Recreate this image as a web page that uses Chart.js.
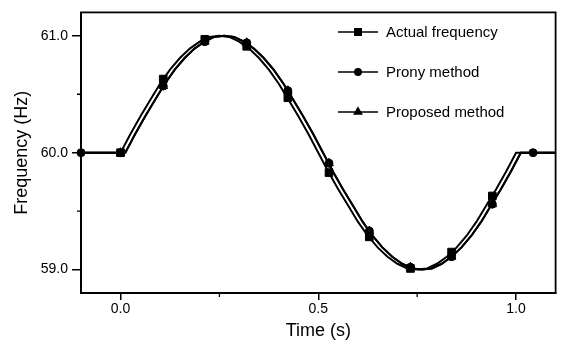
<!DOCTYPE html>
<html><head><meta charset="utf-8">
<script src="https://cdn.jsdelivr.net/npm/chart.js@4/dist/chart.umd.min.js"></script>
<style>html,body{margin:0;padding:0;background:#fff}#wrap{width:562px;height:350px}</style>
</head><body><div id="wrap"><canvas id="c" width="562" height="350"></canvas></div>
<script>
const seriesNames = ['Actual frequency', 'Prony method', 'Proposed method'];

// Actual frequency curve (s, Hz)
const actualTime = [-0.1, 0, 0.025, 0.05, 0.075, 0.1, 0.125, 0.15, 0.175, 0.2, 0.225, 0.25, 0.275, 0.3, 0.325, 0.35, 0.375, 0.4, 0.425, 0.45, 0.475, 0.5, 0.525, 0.55, 0.575, 0.6, 0.625, 0.65, 0.675, 0.7, 0.725, 0.75, 0.775, 0.8, 0.825, 0.85, 0.875, 0.9, 0.925, 0.95, 0.975, 1.0, 1.1];
const actualFreq = [60.00, 60.00, 60.16, 60.31, 60.45, 60.59, 60.71, 60.81, 60.89, 60.95, 60.99, 61.00, 60.99, 60.95, 60.89, 60.81, 60.71, 60.59, 60.45, 60.31, 60.16, 60.00, 59.84, 59.69, 59.55, 59.41, 59.29, 59.19, 59.11, 59.05, 59.01, 59.00, 59.01, 59.05, 59.11, 59.19, 59.29, 59.41, 59.55, 59.69, 59.84, 60.00, 60.00];

// Estimated curve (Prony / Proposed), slightly delayed
const estimatedTime = [-0.1, 0.012, 0.037, 0.062, 0.087, 0.112, 0.137, 0.162, 0.187, 0.212, 0.237, 0.262, 0.287, 0.312, 0.337, 0.362, 0.387, 0.412, 0.437, 0.462, 0.487, 0.512, 0.537, 0.562, 0.587, 0.612, 0.637, 0.662, 0.687, 0.712, 0.737, 0.762, 0.787, 0.812, 0.837, 0.862, 0.887, 0.912, 0.937, 0.962, 0.987, 1.012, 1.1];
const estimatedFreq = [60.00, 60.00, 60.16, 60.31, 60.45, 60.59, 60.71, 60.81, 60.89, 60.95, 60.99, 61.00, 60.99, 60.95, 60.89, 60.81, 60.71, 60.59, 60.45, 60.31, 60.16, 60.00, 59.84, 59.69, 59.55, 59.41, 59.29, 59.19, 59.11, 59.05, 59.01, 59.00, 59.01, 59.05, 59.11, 59.19, 59.29, 59.41, 59.55, 59.69, 59.84, 60.00, 60.00];

// Marker samples
const actualMarkTime = [0, 0.108, 0.213, 0.319, 0.423, 0.527, 0.629, 0.733, 0.837, 0.940];
const actualMarkFreq = [60.00, 60.63, 60.97, 60.91, 60.47, 59.83, 59.28, 59.01, 59.15, 59.63];
const pronyMarkTime = [-0.1, 0, 0.108, 0.213, 0.319, 0.423, 0.527, 0.629, 0.733, 0.837, 0.940, 1.043];
const pronyMarkFreq = [60.00, 60.00, 60.57, 60.95, 60.94, 60.53, 59.91, 59.33, 59.02, 59.11, 59.56, 60.00];
const proposedMarkTime = [0, 0.108, 0.213, 0.319, 0.423, 0.527, 0.629, 0.733, 0.837, 0.940];
const proposedMarkFreq = [60.00, 60.57, 60.95, 60.94, 60.53, 59.91, 59.33, 59.02, 59.11, 59.56];

const xMinorTicks = [0.25, 0.75];
const yMinorTicks = [59.5, 60.5];

const FONT = '"Liberation Sans", Arial, sans-serif';
const pts = (xs, ys) => xs.map((x, i) => ({x: x, y: ys[i]}));
const markerStyles = ['rect', 'circle', 'triangle'];
const markerRadius = [5.4, 4, 5];

function lineDs(label, xs, ys) {
  return {label: label, data: pts(xs, ys), borderColor: '#000', backgroundColor: '#000',
    borderWidth: 2, pointRadius: 0, tension: 0, showLine: true, order: 2};
}
function markDs(label, xs, ys, k) {
  return {label: label, data: pts(xs, ys), showLine: false, pointStyle: markerStyles[k],
    pointRadius: markerRadius[k], pointBackgroundColor: '#000', pointBorderColor: '#000',
    pointBorderWidth: 1, clip: false, order: 1};
}

const frameAndExtras = {
  id: 'frameAndExtras',
  afterDraw(chart) {
    const ctx = chart.ctx, a = chart.chartArea;
    const xs = chart.scales.x, ys = chart.scales.y;
    ctx.save();
    ctx.strokeStyle = '#000';
    ctx.lineWidth = 1.8;
    ctx.strokeRect(a.left, a.top, a.right - a.left, a.bottom - a.top);
    ctx.lineWidth = 1.3;
    ctx.beginPath();
    xMinorTicks.forEach(v => { const p = xs.getPixelForValue(v); ctx.moveTo(p, a.bottom); ctx.lineTo(p, a.bottom + 4); });
    yMinorTicks.forEach(v => { const p = ys.getPixelForValue(v); ctx.moveTo(a.left, p); ctx.lineTo(a.left - 4, p); });
    ctx.stroke();
    // legend
    const rowsY = [32, 72, 112];
    ctx.font = '15px ' + FONT;
    ctx.textBaseline = 'middle';
    ctx.textAlign = 'left';
    ctx.fillStyle = '#000';
    seriesNames.forEach((name, k) => {
      const y = rowsY[k];
      ctx.lineWidth = 1.5;
      ctx.beginPath(); ctx.moveTo(338, y); ctx.lineTo(378, y); ctx.stroke();
      Chart.helpers.drawPoint(ctx, {pointStyle: markerStyles[k], radius: markerRadius[k] - 0.8, rotation: 0, borderWidth: 1}, 358, y);
      ctx.fillText(name, 386, y + 1);
    });
    ctx.restore();
  }
};

new Chart(document.getElementById('c'), {
  type: 'line',
  data: {
    datasets: [
      lineDs(seriesNames[0], actualTime, actualFreq),
      lineDs(seriesNames[1], estimatedTime, estimatedFreq),
      lineDs(seriesNames[2], estimatedTime, estimatedFreq),
      markDs(seriesNames[0], actualMarkTime, actualMarkFreq, 0),
      markDs(seriesNames[1], pronyMarkTime, pronyMarkFreq, 1),
      markDs(seriesNames[2], proposedMarkTime, proposedMarkFreq, 2)
    ]
  },
  options: {
    responsive: false,
    animation: false,
    devicePixelRatio: 1,
    layout: {padding: {top: 7, right: 4, left: 0, bottom: 0}},
    plugins: {legend: {display: false}, tooltip: {enabled: false}},
    scales: {
      x: {
        type: 'linear', min: -0.1, max: 1.1,
        afterFit(s) { s.height = 57; },
        ticks: {stepSize: 0.5, includeBounds: false, padding: 1, color: '#000',
          font: {family: FONT, size: 14}, callback: v => Number(v).toFixed(1)},
        grid: {drawOnChartArea: false, drawTicks: true, tickLength: 7, color: '#000', lineWidth: 1.5},
        border: {display: true, color: '#000', width: 1.8},
        title: {display: true, text: 'Time (s)', color: '#000', font: {family: FONT, size: 18}, padding: {top: 0, bottom: 8}}
      },
      y: {
        type: 'linear', min: 58.8, max: 61.2,
        afterFit(s) { s.width = 81; },
        ticks: {stepSize: 1, includeBounds: false, padding: 4, color: '#000',
          font: {family: FONT, size: 14}, callback: v => Number(v).toFixed(1)},
        grid: {drawOnChartArea: false, drawTicks: true, tickLength: 9, color: '#000', lineWidth: 1.5},
        border: {display: true, color: '#000', width: 1.8},
        title: {display: true, text: 'Frequency (Hz)', color: '#000', font: {family: FONT, size: 18}, padding: {top: 11, bottom: 0}}
      }
    }
  },
  plugins: [frameAndExtras]
});
</script></body></html>
